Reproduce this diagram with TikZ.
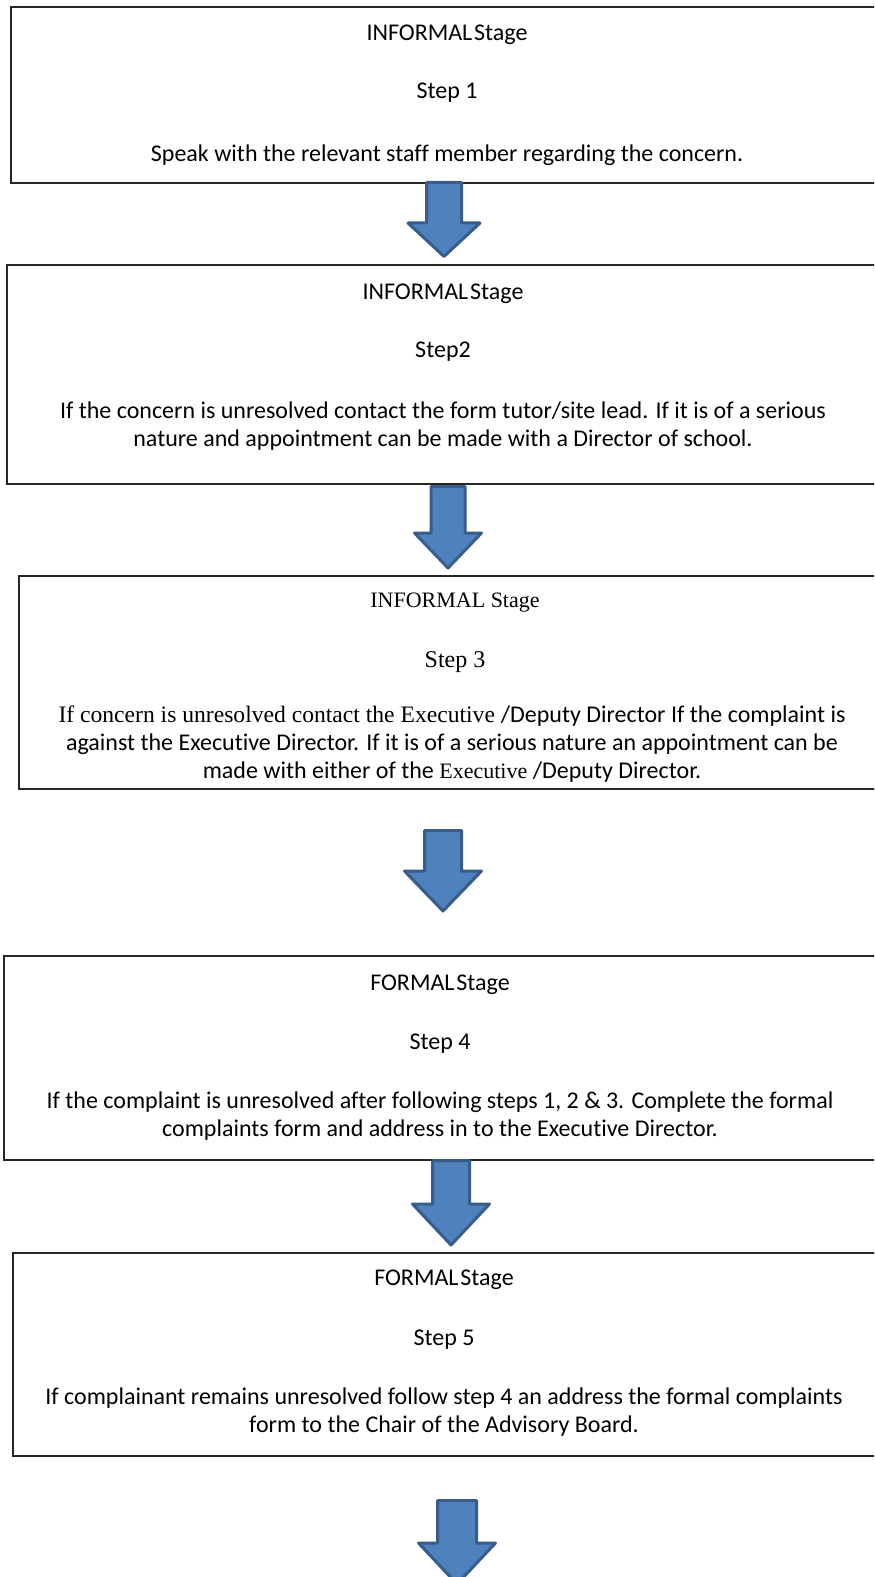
\documentclass[tikz,border=0pt]{standalone}
\usepackage{fontspec}
\setmainfont{Carlito}[Ligatures={NoCommon}]
\newfontfamily\cambria{Liberation Serif}
\usepackage{tikz}
\usetikzlibrary{calc}
\definecolor{arrowfill}{HTML}{4F81BD}
\definecolor{arrowline}{HTML}{385D8A}
% block arrow: centre x, top, head base, tip, half shaft, half head
\newcommand{\blockarrow}[6]{%
  \draw[arrowshape] (#1-#5,#2) -- (#1+#5,#2) -- (#1+#5,#3) -- (#1+#6,#3)
    -- (#1,#4) -- (#1-#6,#3) -- (#1-#5,#3) -- cycle;}
\newcommand{\stagename}[1]{#1\hspace{0.08em}Stage}

\begin{document}
\begin{tikzpicture}[x=0.5pt,y=-0.5pt,
    stagebox/.style={draw=black!85,line width=0.9pt},
    arrowshape/.style={fill=arrowfill,draw=arrowline,line width=1.5pt,line join=round},
    txt/.style={align=center,inner sep=0pt,font=\fontsize{12}{14}\selectfont},
    serif/.style={font=\cambria\fontsize{11}{14}\selectfont}]
  \clip (0,0) rectangle (874,1577);
  \fill[white] (0,0) rectangle (874,1577);
  % step boxes (they run off the right edge)
  \draw[stagebox] (11,7) rectangle (900,183);
  \draw[stagebox] (7,265) rectangle (900,484);
  \draw[stagebox] (19,576) rectangle (900,789);
  \draw[stagebox] (4,956) rectangle (900,1160);
  \draw[stagebox] (13,1253) rectangle (900,1456);
  % step 1
  \node[txt] (stage1) at (447,35) {\stagename{INFORMAL}};
  \node[txt] (step1) at (447,93) {Step 1};
  \node[txt] (desc1) at (447,155) {Speak with the relevant staff member regarding the concern.};
  % step 2
  \node[txt] (stage2) at (443,294) {\stagename{INFORMAL}};
  \node[txt] (step2) at (443,352) {Step2};
  \node[txt] (desc2) at (443,426) {If the concern is unresolved contact the form tutor/site lead. If it is of a serious\\
    nature and appointment can be made with a Director of school.};
  % step 3
  \node[txt,serif] (stage3) at (455,603) {INFORMAL Stage};
  \node[txt,serif,font=\cambria\fontsize{12}{14}\selectfont] (step3) at (455,662) {Step 3};
  \node[txt] (desc3) at (452,744) {{\cambria\fontsize{11.8}{14}\selectfont If concern is unresolved contact the Executive }/Deputy Director If the complaint is\\
    against the Executive Director. If it is of a serious nature an appointment can be\\
    made with either of the {\cambria\fontsize{11}{14}\selectfont Executive }/Deputy Director.};
  % step 4
  \node[txt] (stage4) at (440,985) {\stagename{FORMAL}};
  \node[txt] (step4) at (440,1044) {Step 4};
  \node[txt] (desc4) at (440,1116) {If the complaint is unresolved after following steps 1, 2 \& 3. Complete the formal\\
    complaints form and address in to the Executive Director.};
  % step 5
  \node[txt] (stage5) at (444,1280) {\stagename{FORMAL}};
  \node[txt] (step5) at (444,1340) {Step 5};
  \node[txt] (desc5) at (444,1412) {If complainant remains unresolved follow step 4 an address the formal complaints\\
    form to the Chair of the Advisory Board.};
  % block arrows between the steps
  \blockarrow{444}{182.5}{223}{256.5}{17.5}{36}
  \blockarrow{448}{486.5}{533}{568}{17}{33.5}
  \blockarrow{443}{830.5}{871}{911}{18.5}{38.5}
  \blockarrow{451}{1160.5}{1204}{1245}{18.5}{38.5}
  \blockarrow{457}{1500.5}{1543}{1584}{19.5}{38.5}
\end{tikzpicture}
\end{document}
